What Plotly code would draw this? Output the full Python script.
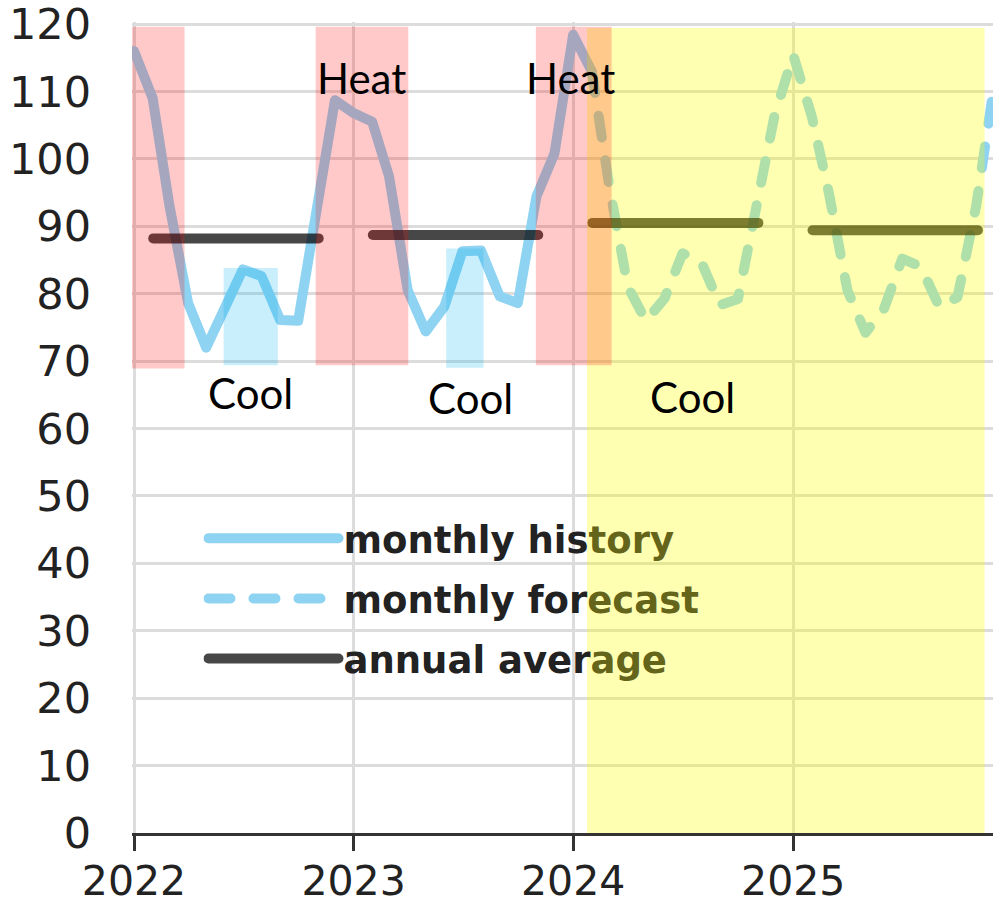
import plotly.graph_objects as go

# ---------------- data ----------------
hist_months = ["2022-01-01", "2022-02-01", "2022-03-01", "2022-04-01", "2022-05-01", "2022-06-01",
               "2022-07-01", "2022-08-01", "2022-09-01", "2022-10-01", "2022-11-01", "2022-12-01",
               "2023-01-01", "2023-02-01", "2023-03-01", "2023-04-01", "2023-05-01", "2023-06-01",
               "2023-07-01", "2023-08-01", "2023-09-01", "2023-10-01", "2023-11-01", "2023-12-01",
               "2024-01-01", "2024-02-01"]
hist_values = [116, 109, 93, 78.6, 72, 77.8, 83.6, 82.6, 76.1, 76, 92.3, 108.7,
               106.8, 105.5, 97.4, 80.5, 74.4, 78.1, 86.3, 86.4, 79.6, 78.6, 94.4, 100.8,
               118.4, 113]

fcst_months = ["2024-02-01", "2024-03-01", "2024-04-01", "2024-05-01", "2024-06-01", "2024-07-01",
               "2024-08-01", "2024-09-01", "2024-10-01", "2024-11-01", "2024-12-01",
               "2025-01-01", "2025-02-01", "2025-03-01", "2025-04-01", "2025-05-01", "2025-06-01",
               "2025-07-01", "2025-08-01", "2025-09-01", "2025-10-01", "2025-11-01", "2025-12-01"]
fcst_values = [113, 96, 81, 76, 79.3, 86, 84.7, 78.3, 79.2, 92.5, 106.5,
               115.4, 106.2, 95, 80.5, 74.2, 77.8, 85.2, 84, 78, 79.5, 93, 111]

avg_starts = ["2022-02-02", "2023-02-02", "2024-02-02", "2025-02-02"]
avg_ends = ["2022-11-04", "2023-11-04", "2024-11-04", "2025-11-04"]
avg_values = [88.2, 88.7, 90.5, 89.4]

tick_vals = ["2022-01-01", "2023-01-01", "2024-01-01", "2025-01-01"]
tick_text = ["2022", "2023", "2024", "2025"]

heat_periods = [("2021-12-20", "2022-03-26"), ("2022-10-30", "2023-04-02"), ("2023-10-31", "2024-03-05")]
heat_low = [68.9, 69.4, 69.4]
heat_high = [119.6, 119.6, 119.6]
cool_periods = [("2022-05-30", "2022-08-28"), ("2023-06-04", "2023-08-05")]
cool_low = [69.4, 69.0]
cool_high = [83.8, 86.7]
forecast_period = ("2024-01-24", "2025-11-15")

# ---------------- styles ----------------
BLUE = "#8FD3F2"
AVG = "rgba(0,0,0,0.72)"
GRID = "#DCDCDC"
OLIVE = "#64641a"

avg_x, avg_y = [], []
for s, e, v in zip(avg_starts, avg_ends, avg_values):
    avg_x += [s, e, None]
    avg_y += [v, v, None]

fig = go.Figure()
fig.add_trace(go.Scatter(x=hist_months, y=hist_values, mode="lines",
                         line=dict(color=BLUE, width=10),
                         name="monthly his<span style='color:%s'>tory</span>" % OLIVE,
                         legendgroup="a"))
fig.add_trace(go.Scatter(x=fcst_months, y=fcst_values, mode="lines",
                         line=dict(color=BLUE, width=10, dash="22px,23px"),
                         name="monthly for<span style='color:%s'>ecast</span>" % OLIVE,
                         legendgroup="b"))
fig.add_trace(go.Scatter(x=avg_x, y=avg_y, mode="lines",
                         line=dict(color=AVG, width=10),
                         name="annual aver<span style='color:%s'>age</span>" % OLIVE,
                         legendgroup="c"))

shapes = []
shapes.append(dict(type="rect", xref="x", yref="y", x0=forecast_period[0], x1=forecast_period[1],
                   y0=0, y1=119.4, fillcolor="rgba(255,255,0,0.30)", line=dict(width=0), layer="above"))
for (a, b), lo, hi in zip(heat_periods, heat_low, heat_high):
    shapes.append(dict(type="rect", xref="x", yref="y", x0=a, x1=b, y0=lo, y1=hi,
                       fillcolor="rgba(255,0,0,0.21)", line=dict(width=0), layer="above"))
for (a, b), lo, hi in zip(cool_periods, cool_low, cool_high):
    shapes.append(dict(type="rect", xref="x", yref="y", x0=a, x1=b, y0=lo, y1=hi,
                       fillcolor="rgba(0,176,240,0.21)", line=dict(width=0), layer="above"))

labels = [("Heat", "2023-01-15", 112.0), ("Heat", "2023-12-28", 112.0),
          ("Cool", "2022-07-13", 65.3), ("Cool", "2023-07-14", 64.5), ("Cool", "2024-07-18", 64.7)]
annotations = [dict(text=t, x=x, y=y, xref="x", yref="y", showarrow=False,
                    font=dict(family="Lato", size=42, color="#000000"))
               for t, x, y in labels]

fig.update_layout(
    width=993, height=908,
    margin=dict(l=132, r=0, t=22, b=75, autoexpand=False),
    paper_bgcolor="white", plot_bgcolor="white",
    shapes=shapes, annotations=annotations,
    showlegend=True,
    legend=dict(x=0.083, y=0.401, xanchor="left", yanchor="top",
                bgcolor="rgba(0,0,0,0)", itemwidth=130, tracegroupgap=9,
                font=dict(family="DejaVu Sans", size=37, color="#222222", weight="bold")),
    xaxis=dict(type="date", range=["2021-12-28 16:00", "2025-11-29"],
               tickvals=tick_vals, ticktext=tick_text,
               showgrid=True, gridcolor=GRID, gridwidth=3,
               showline=True, linecolor="#333333", linewidth=3,
               ticks="outside", ticklen=15, tickwidth=2.5, tickcolor="#333333",
               ticklabelstandoff=-5, automargin=False,
               tickfont=dict(family="DejaVu Sans", size=41, color="#222222"),
               zeroline=False, fixedrange=True, ticklabeloverflow="allow"),
    yaxis=dict(range=[0, 120.3], tick0=0, dtick=10,
               showgrid=True, gridcolor=GRID, gridwidth=3,
               showline=False, ticks="", ticklabelstandoff=40, automargin=False,
               tickfont=dict(family="DejaVu Sans", size=43, color="#222222"),
               zeroline=False, fixedrange=True, ticklabeloverflow="allow"),
)

post = """
document.body.style.margin = '0';
document.body.style.overflow = 'hidden';
var gd = document.getElementById('{plot_id}');
function caps(){
  gd.querySelectorAll('path.js-line').forEach(function(p){
    p.style.strokeLinecap='round'; p.style.strokeLinejoin='round';
  });
}
caps();
gd.on('plotly_afterplot', caps);
"""

fig.write_html("out.html", post_script=post, config=dict(displayModeBar=False))
